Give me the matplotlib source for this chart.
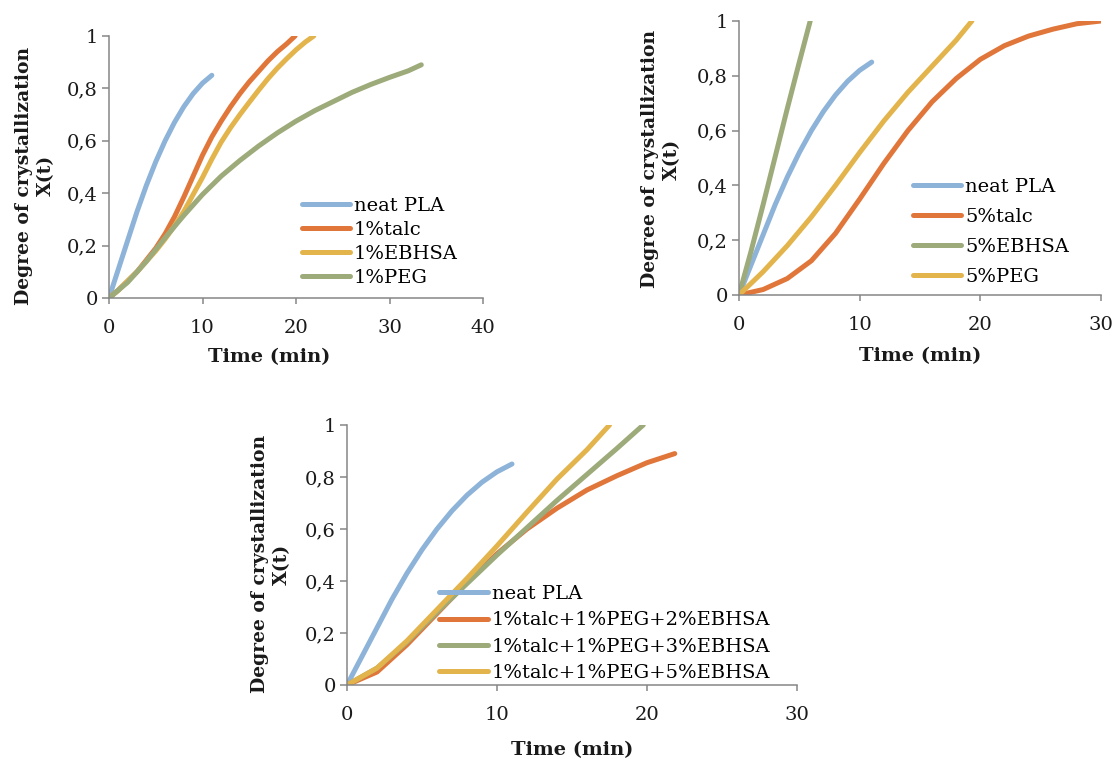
import matplotlib
matplotlib.use("Agg")
import matplotlib.pyplot as plt
from matplotlib.ticker import FuncFormatter

plt.rcParams['font.family'] = ['DejaVu Serif']

# Colours (Excel style)
BLUE = "#8DB3D9"
ORANGE = "#E0763A"
YELLOW = "#E2B44B"
GREEN = "#9DAA79"
AXIS_GREY = "#868686"

# --- neat PLA (same in all panels) ---
t_neat = [0, 1, 2, 3, 4, 5, 6, 7, 8, 9, 10, 11]
x_neat = [0, 0.11, 0.22, 0.33, 0.43, 0.52, 0.60, 0.67, 0.73, 0.78, 0.82, 0.85]

# --- panel 1 : 1% additives ---
t_1talc = [0, 1, 2, 3, 4, 5, 6, 7, 8, 9, 10, 11, 12, 13, 14, 15, 16, 17, 18, 19, 19.9]
x_1talc = [0, 0.03, 0.065, 0.10, 0.145, 0.19, 0.245, 0.31, 0.385, 0.465, 0.545, 0.615,
           0.675, 0.73, 0.78, 0.825, 0.865, 0.905, 0.94, 0.97, 1.0]
t_1ebhsa = [0, 1, 2, 3, 4, 5, 6, 7, 8, 9, 10, 11, 12, 13, 14, 15, 16, 17, 18, 19, 20, 21, 21.9]
x_1ebhsa = [0, 0.03, 0.065, 0.10, 0.14, 0.18, 0.225, 0.275, 0.33, 0.395, 0.46, 0.53,
            0.595, 0.65, 0.70, 0.747, 0.793, 0.837, 0.877, 0.913, 0.947, 0.977, 1.0]
t_1peg = [0, 2, 4, 6, 8, 10, 12, 14, 16, 18, 20, 22, 24, 26, 28, 30, 32, 33.4]
x_1peg = [0, 0.06, 0.14, 0.23, 0.315, 0.395, 0.465, 0.525, 0.58, 0.63, 0.675, 0.715,
          0.75, 0.785, 0.815, 0.842, 0.867, 0.89]

# --- panel 2 : 5% additives ---
t_5talc = [0, 2, 4, 6, 8, 10, 12, 14, 16, 18, 20, 22, 24, 26, 28, 30]
x_5talc = [0, 0.02, 0.06, 0.125, 0.225, 0.35, 0.48, 0.60, 0.705, 0.79, 0.86, 0.91,
           0.945, 0.97, 0.99, 1.0]
t_5ebhsa = [0, 1, 2, 3, 4, 5, 5.9]
x_5ebhsa = [0, 0.16, 0.33, 0.505, 0.68, 0.85, 1.0]
t_5peg = [0, 2, 4, 6, 8, 10, 12, 14, 16, 18, 19.3]
x_5peg = [0, 0.085, 0.18, 0.285, 0.40, 0.52, 0.635, 0.74, 0.835, 0.93, 1.0]

# --- panel 3 : combinations ---
t_mix2 = [0, 2, 4, 6, 8, 10, 12, 14, 16, 18, 20, 21.85]
x_mix2 = [0, 0.05, 0.155, 0.275, 0.395, 0.505, 0.60, 0.68, 0.75, 0.805, 0.855, 0.89]
t_mix3 = [0, 2, 4, 6, 8, 10, 12, 14, 16, 18, 19.75]
x_mix3 = [0, 0.065, 0.165, 0.28, 0.39, 0.50, 0.605, 0.71, 0.81, 0.91, 1.0]
t_mix5 = [0, 2, 4, 6, 8, 10, 12, 14, 16, 17.5]
x_mix5 = [0, 0.065, 0.17, 0.29, 0.41, 0.535, 0.665, 0.792, 0.905, 1.0]

y_ticks = [0, 0.2, 0.4, 0.6, 0.8, 1]


def comma_fmt(v, pos):
    if abs(v) < 1e-9:
        return "0"
    if abs(v - 1) < 1e-9:
        return "1"
    return f"{v:.1f}".replace(".", ",")


def style_axes(ax, xmax, xlabel_pos, ylabel_pos):
    ax.set_xlim(0, xmax)
    ax.set_ylim(0, 1)
    ax.set_xticks(range(0, xmax + 1, 10))
    ax.set_yticks(y_ticks)
    ax.yaxis.set_major_formatter(FuncFormatter(comma_fmt))
    for s in ["top", "right"]:
        ax.spines[s].set_visible(False)
    for s in ["left", "bottom"]:
        ax.spines[s].set_color(AXIS_GREY)
        ax.spines[s].set_linewidth(1.1)
    ax.tick_params(axis="x", direction="out", length=4, width=1.1, color=AXIS_GREY,
                   labelsize=14, pad=11, labelcolor="#1a1a1a")
    ax.tick_params(axis="y", direction="out", length=5, width=1.1, color=AXIS_GREY,
                   labelsize=14, pad=3, labelcolor="#1a1a1a")
    ax.text(xlabel_pos[0], xlabel_pos[1], "Time (min)", transform=ax.transAxes,
            ha="center", va="top", fontsize=14, fontweight="bold", color="#1a1a1a")
    ax.text(ylabel_pos[0], ylabel_pos[1], "Degree of crystallization\nX(t)",
            transform=ax.transAxes, rotation=90, ha="center", va="center",
            multialignment="center", fontsize=13.5, fontweight="bold",
            color="#1a1a1a", linespacing=1.3)


def add_legend(ax, anchor, spacing):
    ax.legend(loc="center left", bbox_to_anchor=anchor, frameon=False,
              fontsize=14, handlelength=2.5, handletextpad=0.2,
              labelspacing=spacing, borderpad=0, borderaxespad=0)


fig = plt.figure(figsize=(11.15, 7.59), dpi=100)

lw = 3.6
kw = dict(lw=lw, solid_capstyle="round", solid_joinstyle="round")

# Panel 1
ax1 = fig.add_axes([109 / 1115, 1 - 298 / 759, 374 / 1115, 262 / 759])
ax1.plot(t_neat, x_neat, color=BLUE, label="neat PLA", **kw)
ax1.plot(t_1talc, x_1talc, color=ORANGE, label="1%talc", **kw)
ax1.plot(t_1ebhsa, x_1ebhsa, color=YELLOW, label="1%EBHSA", **kw)
ax1.plot(t_1peg, x_1peg, color=GREEN, label="1%PEG", **kw)
style_axes(ax1, 40, (0.428, -0.19), (-0.198, 0.466))
add_legend(ax1, (0.515, 0.214), 0.32)

# Panel 2
ax2 = fig.add_axes([739 / 1115, 1 - 295 / 759, 362 / 1115, 274 / 759])
ax2.plot(t_neat, x_neat, color=BLUE, label="neat PLA", **kw)
ax2.plot(t_5talc, x_5talc, color=ORANGE, label="5%talc", **kw)
ax2.plot(t_5ebhsa, x_5ebhsa, color=GREEN, label="5%EBHSA", **kw)
ax2.plot(t_5peg, x_5peg, color=YELLOW, label="5%PEG", **kw)
style_axes(ax2, 30, (0.5, -0.19), (-0.215, 0.496))
add_legend(ax2, (0.48, 0.230), 0.62)

# Panel 3
ax3 = fig.add_axes([347 / 1115, 1 - 685 / 759, 450 / 1115, 260 / 759])
ax3.plot(t_neat, x_neat, color=BLUE, label="neat PLA", **kw)
ax3.plot(t_mix2, x_mix2, color=ORANGE, label="1%talc+1%PEG+2%EBHSA", **kw)
ax3.plot(t_mix3, x_mix3, color=GREEN, label="1%talc+1%PEG+3%EBHSA", **kw)
ax3.plot(t_mix5, x_mix5, color=YELLOW, label="1%talc+1%PEG+5%EBHSA", **kw)
style_axes(ax3, 30, (0.5, -0.215), (-0.169, 0.465))
add_legend(ax3, (0.205, 0.198), 0.42)

fig.savefig("out.png", dpi=100)
